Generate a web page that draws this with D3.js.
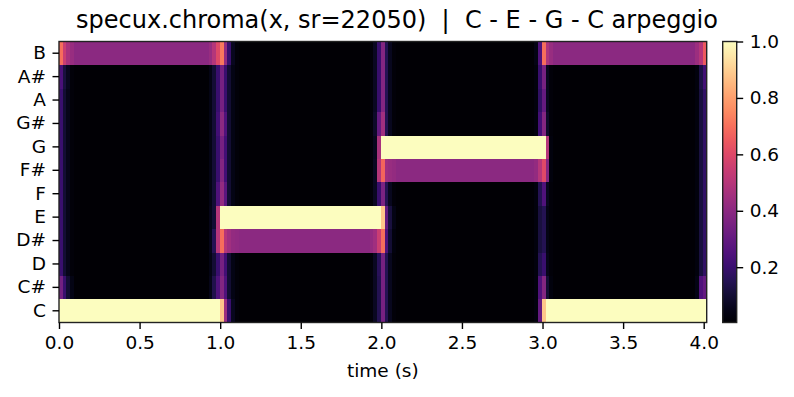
<!DOCTYPE html>
<html>
<head>
<meta charset="utf-8">
<script src="https://cdn.jsdelivr.net/npm/d3@7"></script>
<style>
  body { margin: 0; background: #fff; }
  svg { display: block; }
  text { font-family: "DejaVu Sans", sans-serif; }
</style>
</head>
<body>
<svg id="vis" width="794" height="397"></svg>
<script>
// chroma bins, bottom to top
const pitchClasses = ["C", "C#", "D", "D#", "E", "F", "F#", "G", "G#", "A", "A#", "B"];
const timeTicks = [0, 0.5, 1, 1.5, 2, 2.5, 3, 3.5, 4];
const colorTicks = [0.2, 0.4, 0.6, 0.8, 1.0];
const hop = 512 / 22050;
const nFrames = 173;

// frame where each note holds, and its steady chroma (C..B)
const noteStarts = [0, 44, 87, 130];
const noteChroma = [
  [1, .01, .01, .01, .01, .01, .01, .01, .01, .01, .01, .4],
  [.01, .01, .01, .4, 1, .01, .01, .01, .01, .01, .01, .01],
  [.01, .01, .01, .01, .01, .01, .4, 1, .01, .01, .01, .01],
  [1, .01, .01, .01, .01, .01, .01, .01, .01, .01, .01, .4]
];

// frames around the onsets, read column by column (C..B)
const edgeFrames = [0, 1, 2, 3, 40, 41, 42, 43, 44, 45, 46, 47,
                    83, 84, 85, 86, 87, 88, 89, 127, 128, 129, 130, 131, 170, 171, 172];
const edgeChroma = [
  [1, .34, .2, .2, .2, .2, .2, .2, .2, .2, .24, .7],
  [1, .2, .1, .1, .1, .1, .1, .1, .1, .1, .12, .55],
  [1, .1, .05, .05, .05, .05, .05, .05, .05, .05, .06, .47],
  [1, .04, .02, .02, .02, .02, .02, .02, .02, .02, .02, .43],
  [1, .05, .04, .05, .05, .04, .04, .04, .04, .04, .04, .43],
  [1, .14, .1, .15, .1, .1, .1, .1, .1, .1, .1, .5],
  [1, .25, .2, .5, .5, .25, .2, .2, .22, .2, .2, .6],
  [.88, .38, .35, .7, 1, .42, .38, .35, .4, .35, .35, .72],
  [.44, .25, .22, .5, 1, .28, .22, .22, .25, .2, .2, .42],
  [.2, .1, .1, .45, 1, .1, .1, .1, .1, .1, .1, .2],
  [.06, .04, .04, .42, 1, .04, .04, .04, .04, .04, .04, .06],
  [.02, .02, .02, .41, 1, .02, .02, .02, .02, .02, .02, .02],
  [.02, .02, .02, .42, 1, .02, .02, .02, .02, .02, .02, .02],
  [.07, .07, .07, .45, 1, .07, .07, .06, .08, .07, .07, .07],
  [.15, .15, .16, .55, 1, .2, .5, .47, .3, .2, .2, .2],
  [.35, .35, .35, .7, .88, .36, .68, 1, .45, .38, .38, .38],
  [.15, .15, .15, .25, .3, .15, .45, 1, .15, .15, .15, .15],
  [.06, .06, .06, .1, .12, .06, .43, 1, .06, .06, .06, .06],
  [.02, .02, .02, .03, .04, .02, .42, 1, .02, .02, .02, .02],
  [.03, .03, .03, .03, .03, .03, .42, 1, .03, .03, .03, .04],
  [.3, .25, .15, .12, .12, .15, .5, 1, .22, .18, .2, .25],
  [.88, .38, .2, .15, .15, .25, .6, 1, .38, .3, .35, .7],
  [1, .1, .05, .04, .04, .06, .38, .5, .08, .06, .06, .48],
  [1, .03, .02, .02, .02, .02, .03, .03, .02, .02, .02, .43],
  [1, .04, .03, .03, .03, .03, .03, .03, .03, .03, .03, .44],
  [1, .25, .12, .12, .12, .12, .12, .12, .12, .12, .13, .5],
  [1, .3, .18, .18, .18, .18, .18, .18, .18, .18, .22, .65]
];

function frameChroma(i) {
  let k = edgeFrames.indexOf(i);
  if (k >= 0) return edgeChroma[k];
  let seg = 0;
  for (let s = 0; s < noteStarts.length; s++) {
    if (i >= noteStarts[s]) seg = s;
  }
  return noteChroma[seg];
}

function drawChart() {
  let svg = d3.select("#vis");
  let left = 59, right = 706.7, top = 41.5, bottom = 322.5;
  let cbLeft = 722.7, cbRight = 736.7;

  let x = d3.scaleLinear().domain([0, 4]).range([left, 703.7]);
  let y = d3.scaleBand().domain(pitchClasses).range([bottom, top]);
  let color = d3.scaleSequential(d3.interpolateMagma).domain([0.004, 1]);

  let cells = [];
  for (let i = 0; i < nFrames; i++) {
    let col = frameChroma(i);
    pitchClasses.forEach((p, j) => cells.push({ frame: i, pc: p, value: col[j] }));
  }

  svg.append("g")
    .selectAll("rect")
    .data(cells)
    .enter()
    .append("rect")
    .attr("x", d => x(d.frame * hop))
    .attr("y", d => y(d.pc))
    .attr("width", d => x((d.frame + 1) * hop) - x(d.frame * hop) + 0.4)
    .attr("height", y.bandwidth() + 0.4)
    .attr("fill", d => color(d.value))
    .attr("shape-rendering", "crispEdges");

  // frame
  svg.append("rect")
    .attr("x", left).attr("y", top)
    .attr("width", right - left).attr("height", bottom - top)
    .attr("fill", "none").attr("stroke", "#222").attr("stroke-width", 1.4);

  let xAxis = svg.append("g")
    .attr("transform", `translate(0,${bottom})`)
    .call(d3.axisBottom(x).tickValues(timeTicks).tickFormat(d3.format(".1f")).tickSize(6.5).tickPadding(6.5));
  let yAxis = svg.append("g")
    .attr("transform", `translate(${left},0)`)
    .call(d3.axisLeft(y).tickSize(6.5).tickPadding(6.5));

  // colorbar
  let cb = d3.scaleLinear().domain([0.004, 1]).range([bottom, top]);
  let grad = svg.append("defs").append("linearGradient")
    .attr("id", "magma").attr("x1", 0).attr("y1", 1).attr("x2", 0).attr("y2", 0);
  d3.range(0, 1.0001, 0.05).forEach(t => {
    grad.append("stop").attr("offset", t).attr("stop-color", d3.interpolateMagma(t));
  });
  svg.append("rect")
    .attr("x", cbLeft).attr("y", top)
    .attr("width", cbRight - cbLeft).attr("height", bottom - top)
    .attr("fill", "url(#magma)")
    .attr("stroke", "#222").attr("stroke-width", 1.4);
  let cAxis = svg.append("g")
    .attr("transform", `translate(${cbRight},0)`)
    .call(d3.axisRight(cb).tickValues(colorTicks).tickFormat(d3.format(".1f")).tickSize(6.5).tickPadding(6.5));

  [xAxis, yAxis, cAxis].forEach(g => {
    g.select(".domain").remove();
    g.selectAll("line").attr("stroke", "#000").attr("stroke-width", 1.4);
    g.selectAll("text").attr("fill", "#000").style("font-size", "18.5px")
      .style("font-family", "'DejaVu Sans', sans-serif");
  });

  // title sits over the whole figure
  svg.append("text")
    .attr("x", 397).attr("y", 28)
    .attr("text-anchor", "middle")
    .style("font-size", "24px")
    .style("white-space", "pre")
    .text("specux.chroma(x, sr=22050)  |  C - E - G - C arpeggio");

  svg.append("text")
    .attr("x", (left + right) / 2).attr("y", 377)
    .attr("text-anchor", "middle")
    .style("font-size", "18.5px")
    .text("time (s)");
}

drawChart();
</script>
</body>
</html>
